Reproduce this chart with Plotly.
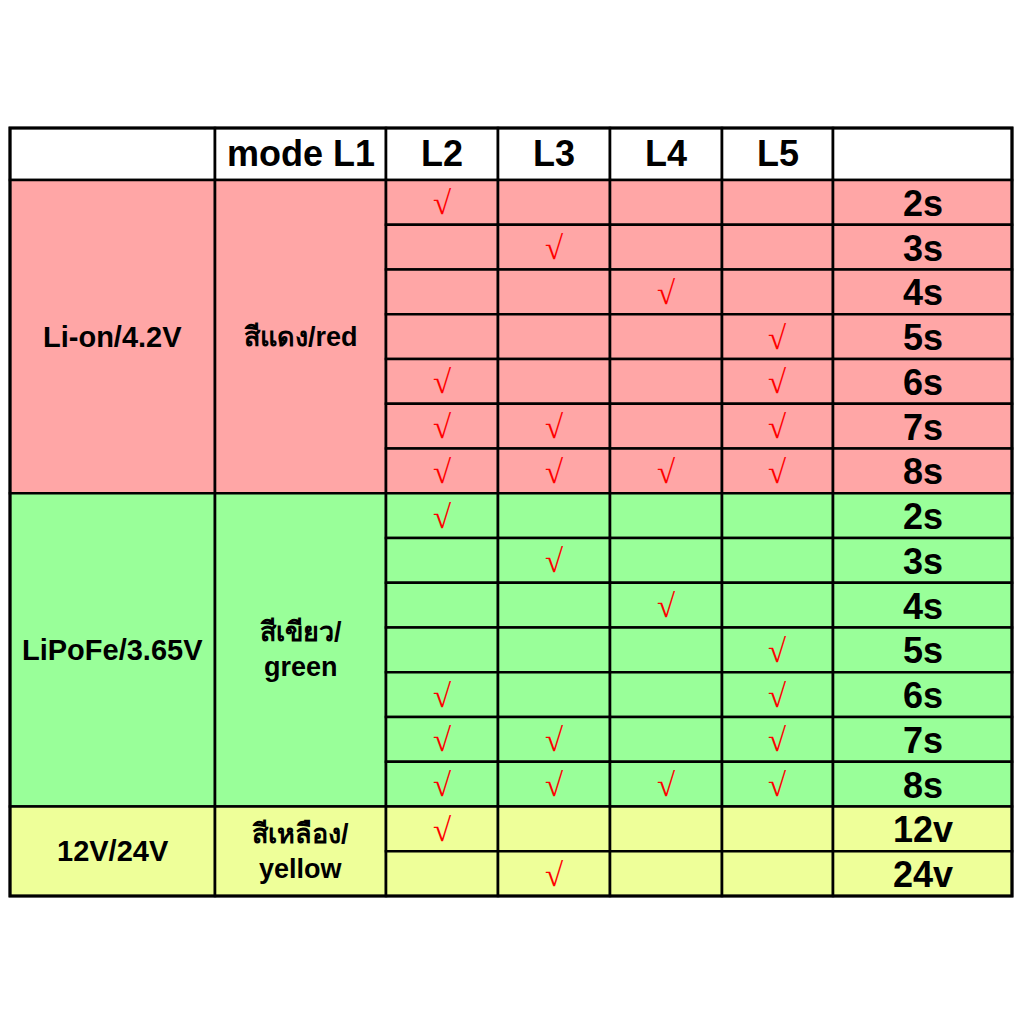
import plotly.graph_objects as go

# table content
headers = ["", "mode L1", "L2", "L3", "L4", "L5", ""]
groups = ["Li-on/4.2V", "LiPoFe/3.65V", "12V/24V"]
group_colors = ["สีแดง/red", "สีเขียว/<br>green", "สีเหลือง/<br>yellow"]
row_labels = [
    ["2s", "3s", "4s", "5s", "6s", "7s", "8s"],
    ["2s", "3s", "4s", "5s", "6s", "7s", "8s"],
    ["12v", "24v"],
]
# which of L2..L5 is ticked in each row
ticks = [
    [[1, 0, 0, 0], [0, 1, 0, 0], [0, 0, 1, 0], [0, 0, 0, 1],
     [1, 0, 0, 1], [1, 1, 0, 1], [1, 1, 1, 1]],
    [[1, 0, 0, 0], [0, 1, 0, 0], [0, 0, 1, 0], [0, 0, 0, 1],
     [1, 0, 0, 1], [1, 1, 0, 1], [1, 1, 1, 1]],
    [[1, 0, 0, 0], [0, 1, 0, 0]],
]
fills = ["#FFA6A6", "#99FF99", "#EEFF99"]

# layout of the grid (in page pixels)
col_edges = [10, 215, 386, 498, 610, 722, 833, 1012]
top = 128
head_h = 52
row_h = 44.75

FONT = "Liberation Sans, Arial, Noto Sans, sans-serif"
LW = 2.6

fig = go.Figure()
shapes = []
ann = []


def cell(x0, x1, y0, y1, fill):
    shapes.append(dict(type="rect", xref="x", yref="y", x0=x0, x1=x1, y0=y0, y1=y1,
                       fillcolor=fill, line=dict(color="black", width=LW), layer="below"))


def text(x, y, t, size, color="black", bold=True, family=FONT, dy=0):
    ann.append(dict(x=x, y=y, xref="x", yref="y", text=("<b>%s</b>" % t) if bold else t,
                    showarrow=False, yshift=dy,
                    font=dict(family=family, size=size, color=color)))


# header row
for i, h in enumerate(headers):
    x0, x1 = col_edges[i], col_edges[i + 1]
    cell(x0, x1, top, top + head_h, "white")
    if h:
        text((x0 + x1) / 2, top + head_h / 2, h, 36, dy=1)

y = top + head_h
for g, name in enumerate(groups):
    n = len(row_labels[g])
    y0, y1 = y, y + n * row_h
    cell(col_edges[0], col_edges[1], y0, y1, fills[g])
    cell(col_edges[1], col_edges[2], y0, y1, fills[g])
    text((col_edges[0] + col_edges[1]) / 2, (y0 + y1) / 2, name, 29)
    text((col_edges[1] + col_edges[2]) / 2, (y0 + y1) / 2, group_colors[g], 27)
    for r in range(n):
        ry0, ry1 = y0 + r * row_h, y0 + (r + 1) * row_h
        for c in range(4):
            cx0, cx1 = col_edges[2 + c], col_edges[3 + c]
            cell(cx0, cx1, ry0, ry1, fills[g])
            if ticks[g][r][c]:
                text((cx0 + cx1) / 2, (ry0 + ry1) / 2, "√", 33, color="#FF0000",
                     bold=False, family="Liberation Serif, Times New Roman, serif", dy=-1)
        cell(col_edges[6], col_edges[7], ry0, ry1, fills[g])
        text(923, (ry0 + ry1) / 2, row_labels[g][r], 36, dy=-1)
    y = y1

# outer border
shapes.append(dict(type="rect", xref="x", yref="y", x0=col_edges[0], x1=col_edges[-1],
                   y0=top, y1=y, line=dict(color="black", width=LW + 0.4), layer="above"))

# the html body has an 8px margin; one axis unit = one pixel of the page
W, H = 1008, 990
fig.update_layout(
    width=W, height=H,
    margin=dict(l=0, r=0, t=0, b=0),
    paper_bgcolor="white", plot_bgcolor="white",
    xaxis=dict(range=[8, 8 + W], visible=False, fixedrange=True),
    yaxis=dict(range=[8 + H, 8], visible=False, fixedrange=True),
    shapes=shapes, annotations=ann, showlegend=False,
)

fig.write_html("out.html")
